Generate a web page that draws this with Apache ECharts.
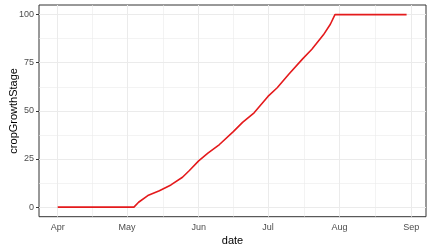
<!DOCTYPE html>
<html>
<head>
<meta charset="utf-8">
<script src="https://cdn.jsdelivr.net/npm/echarts@6/dist/echarts.min.js"></script>
<style>html,body{margin:0;padding:0;background:#fff}#c{width:432px;height:252px}</style>
</head>
<body>
<div id="c"></div>
<script>
// Data
var dates = ['2023-04-01','2023-05-04','2023-05-06','2023-05-10','2023-05-15','2023-05-20','2023-05-25','2023-05-28','2023-06-01','2023-06-05','2023-06-10','2023-06-16','2023-06-20','2023-06-25','2023-07-01','2023-07-05','2023-07-10','2023-07-16','2023-07-20','2023-07-25','2023-07-28','2023-07-30','2023-08-30'];
var cropGrowthStage = [0,0,2.5,6,8.5,11.5,15.5,19,24,28,32.5,39.2,44,49,57.5,62,69,77,82,89.5,95,100,100];
var monthTicks = ['2023-04-01','2023-05-01','2023-06-01','2023-07-01','2023-08-01','2023-09-01'];
var monthLabels = ['Apr','May','Jun','Jul','Aug','Sep'];
var yTicks = [0,25,50,75,100];
var yMinorTicks = [12.5,37.5,62.5,87.5];

function t(s){var p=s.split('-');return new Date(+p[0],+p[1]-1,+p[2]).getTime();}
var DAY=86400000;
var xMin = t('2023-04-01') - 8.1*DAY;
var xMax = t('2023-04-01') + 159.4*DAY;
var majorX = monthTicks.map(t);
var minorX = [];
for (var i=0;i<majorX.length-1;i++) minorX.push((majorX[i]+majorX[i+1])/2);

var gridMarks = [];
minorX.forEach(function(v){gridMarks.push({xAxis:v,lineStyle:{width:0.6}});});
yMinorTicks.forEach(function(v){gridMarks.push({yAxis:v,lineStyle:{width:0.6}});});
majorX.forEach(function(v){gridMarks.push({xAxis:v,lineStyle:{width:1}});});
yTicks.forEach(function(v){gridMarks.push({yAxis:v,lineStyle:{width:1}});});

var chart = echarts.init(document.getElementById('c'), null, {renderer:'canvas'});
chart.setOption({
  animation:false,
  backgroundColor:'#ffffff',
  grid:{left:39,top:5,width:387,height:211.7,show:true,borderColor:'#333333',borderWidth:1,backgroundColor:'transparent',containLabel:false,outerBoundsMode:'none'},
  xAxis:{
    type:'value',min:xMin,max:xMax,
    name:'date',nameLocation:'middle',nameGap:19,nameMoveOverlap:false,
    nameTextStyle:{color:'#000',fontSize:11,fontFamily:'Liberation Sans, Arial, sans-serif',verticalAlign:'top'},
    axisLine:{show:false},
    splitLine:{show:false},
    axisTick:{show:true,length:3,lineStyle:{color:'#333333',width:1},customValues:majorX},
    axisLabel:{color:'#4D4D4D',fontSize:9,margin:6,fontFamily:'Liberation Sans, Arial, sans-serif',customValues:majorX,
      formatter:function(v){var k=majorX.indexOf(v);return k>=0?monthLabels[k]:'';},hideOverlap:false}
  },
  yAxis:{
    type:'value',min:-5,max:105,
    name:'cropGrowthStage',nameLocation:'middle',nameGap:20,nameRotate:90,nameMoveOverlap:false,
    nameTextStyle:{color:'#000',fontSize:11,fontFamily:'Liberation Sans, Arial, sans-serif'},
    axisLine:{show:false},
    splitLine:{show:false},
    axisTick:{show:true,length:3,lineStyle:{color:'#333333',width:1},customValues:yTicks},
    axisLabel:{color:'#4D4D4D',fontSize:9,margin:5,fontFamily:'Liberation Sans, Arial, sans-serif',customValues:yTicks}
  },
  series:[
    {type:'line',data:[],silent:true,z:1,
      markLine:{silent:true,z:1,symbol:['none','none'],label:{show:false},animation:false,
        lineStyle:{color:'#EBEBEB',type:'solid'},emphasis:{disabled:true},data:gridMarks}},
    {type:'line',z:10,showSymbol:false,symbol:'none',
      data:dates.map(function(d,i){return [t(d),cropGrowthStage[i]];}),
      lineStyle:{color:'#E41A1C',width:1.6},itemStyle:{color:'#E41A1C'}}
  ]
});
</script>
</body>
</html>
